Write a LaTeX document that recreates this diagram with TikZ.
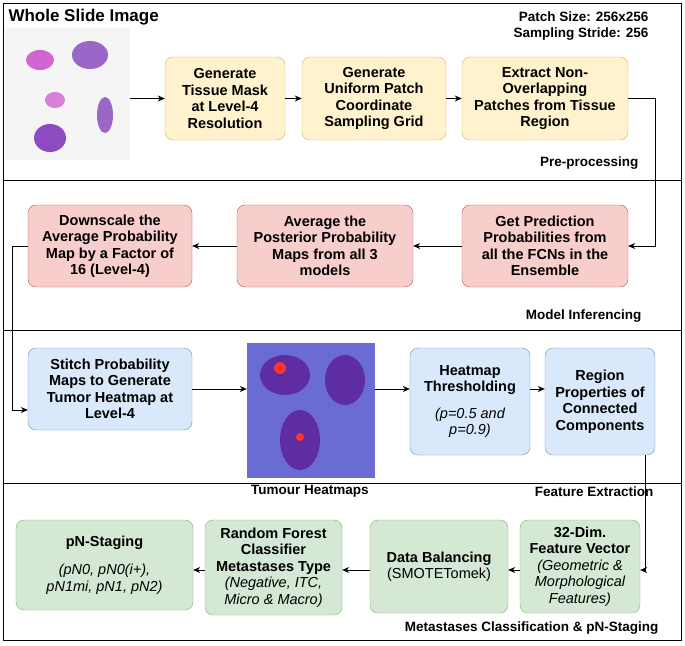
\documentclass[tikz,border=0pt]{standalone}
\usepackage{fontspec}
\setmainfont{Liberation Sans}
\usetikzlibrary{arrows.meta,positioning}
\definecolor{yf}{HTML}{FFF2CC}\definecolor{yd}{HTML}{D6B656}
\definecolor{rf}{HTML}{F8CECC}\definecolor{rd}{HTML}{B85450}
\definecolor{bf}{HTML}{DAE8FC}\definecolor{bd}{HTML}{6C8EBF}
\definecolor{gf}{HTML}{D5E8D4}\definecolor{gd}{HTML}{82B366}
\begin{document}
\begin{tikzpicture}[x=1pt,y=-1pt,font=\bfseries\fontsize{14.5}{16.5}\selectfont,
 box/.style={rounded corners=8pt,align=center,inner sep=2pt},
 yel/.style={box,fill=yf,draw=yd},
 red/.style={box,fill=rf,draw=rd},
 blu/.style={box,fill=bf,draw=bd},
 grn/.style={box,fill=gf,draw=gd},
 arr/.style={-{Stealth[length=7pt,width=6pt]},thick},
 lbl/.style={font=\bfseries\fontsize{13.5}{16}\selectfont}]
\useasboundingbox (0,0) rectangle (685,645);
\draw[thick] (3,3) rectangle (681,640);
\draw[thick] (3,180)--(681,180) (3,330)--(681,330) (3,483)--(681,483);
% WSI
\node[lbl,font=\bfseries\fontsize{17}{19}\selectfont,anchor=west] at (5,17) {Whole Slide Image};
\node[inner sep=0,minimum width=125,minimum height=132,fill=gray!8] (wsi) at (67.5,94) {};
\fill[violet!60!magenta!60] (40,60) ellipse (14 and 10);
\fill[violet!70!blue!60] (90,55) ellipse (18 and 14);
\fill[violet!60!magenta!50] (55,100) ellipse (10 and 8);
\fill[violet!70!blue!70] (50,138) ellipse (16 and 14);
\fill[violet!70!blue!60] (105,115) ellipse (8 and 18);
\node[lbl,align=right,anchor=north east] at (652,8) {Patch Size: 256x256\\Sampling Stride: 256};
\node[yel,minimum width=120,minimum height=83] (A) at (225,98.5) {Generate\\Tissue Mask\\at Level-4\\Resolution};
\node[yel,minimum width=144,minimum height=83] (B) at (374,98.5) {Generate\\Uniform Patch\\Coordinate\\Sampling Grid};
\node[yel,minimum width=166,minimum height=83] (C) at (545,98.5) {Extract Non-\\Overlapping\\Patches from Tissue\\Region};
\node[lbl,anchor=east] at (642,163) {Pre-processing};
\node[red,minimum width=164,minimum height=82] (D) at (110,246) {Downscale the\\Average Probability\\Map by a Factor of\\16 (Level-4)};
\node[red,minimum width=176,minimum height=82] (E) at (325,246) {Average the\\Posterior Probability\\Maps from all 3\\models};
\node[red,minimum width=166,minimum height=82] (F) at (545,246) {Get Prediction\\Probabilities from\\all the FCNs in the\\Ensemble};
\node[lbl,anchor=east] at (645,316) {Model Inferencing};
\node[blu,minimum width=164,minimum height=82] (G) at (110,389) {Stitch Probability\\Maps to Generate\\Tumor Heatmap at\\Level-4};
\node[inner sep=0,minimum width=128,minimum height=135,fill=blue!55!gray!75] (hm) at (311,410.5) {};
\fill[violet!60!blue!65!gray] (285,375) ellipse (25 and 20);
\fill[violet!60!blue!65!gray] (345,380) ellipse (20 and 25);
\fill[violet!60!blue!65!gray] (300,440) ellipse (20 and 30);
\fill[red!80] (280,368) circle (6);
\fill[red!80] (300,437) circle (4);
\node[lbl] at (310,491) {Tumour Heatmaps};
\node[blu,minimum width=120,minimum height=107] (H) at (470,401.5) {Heatmap\\Thresholding\\[10pt]\normalfont\itshape(p=0.5 and\\\normalfont\itshape p=0.9)};
\node[blu,minimum width=110,minimum height=107] (I) at (600,401.5) {Region\\Properties of\\Connected\\Components};
\node[lbl,anchor=east] at (657,492) {Feature Extraction};
\node[grn,minimum width=177,minimum height=90] (J) at (104.5,565) {pN-Staging\\[12pt]\normalfont\itshape(pN0, pN0(i+),\\\normalfont\itshape pN1mi, pN1, pN2)};
\node[grn,minimum width=137,minimum height=95] (K) at (273.5,567.5) {Random Forest\\Classifier\\Metastases Type\\\normalfont\itshape(Negative, ITC,\\\normalfont\itshape Micro \& Macro)};
\node[grn,minimum width=138,minimum height=93] (L) at (439,566.5) {Data Balancing\\\normalfont(SMOTETomek)};
\node[grn,minimum width=120,minimum height=93] (M) at (580,566.5) {32-Dim.\\Feature Vector\\\normalfont\itshape(Geometric \&\\\normalfont\itshape Morphological\\\normalfont\itshape Features)};
\node[lbl,anchor=east] at (662,628) {Metastases Classification \& pN-Staging};
% connectors
\draw[arr] (wsi.east|-A) -- (A);
\draw[arr] (A)--(B);
\draw[arr] (B)--(C);
\draw[arr] (C.east) -- (655,98.5) |- (F.east);
\draw[arr] (F)--(E);
\draw[arr] (E)--(D);
\draw[arr] (D.west) -- (12,246) |- (G.west|-0,410);
\draw[arr] (G)--(hm.west|-G);
\draw[arr] (hm.east|-G)--(H.west|-G);
\draw[arr] (H.east|-G)--(I.west|-G);
\draw[arr] (645,455) |- (M.east|-0,570);
\draw[arr] (M.west|-0,570)--(L.east|-0,570);
\draw[arr] (L.west|-0,570)--(K.east|-0,570);
\draw[arr] (K.west|-0,570)--(J.east|-0,570);
\end{tikzpicture}
\end{document}
